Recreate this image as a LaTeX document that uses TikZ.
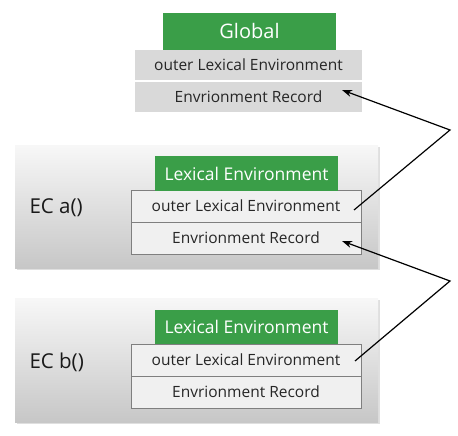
\documentclass[tikz,border=0pt]{standalone}
\usepackage{fontspec}
\setmainfont{Open Sans}
\usetikzlibrary{shadows,arrows.meta}
\definecolor{gr}{HTML}{3A9E48}
\definecolor{rowgray}{HTML}{D9D9D9}
\definecolor{rowlight}{HTML}{F0F0F0}
\definecolor{bordergray}{HTML}{7F7F7F}
\tikzset{
  greenbox/.style={fill=gr, text=white, minimum width=#1, minimum height=35pt, inner sep=0pt, font=\fontsize{17.5}{17.5}\selectfont},
  grayrow/.style={fill=rowgray, minimum width=227pt, minimum height=30pt, inner sep=0pt, font=\fontsize{15.5}{15.5}\selectfont, text=black!85},
  erow/.style={fill=rowlight, draw=bordergray, line width=0.6pt, minimum width=230pt, minimum height=32pt, inner sep=0pt, font=\fontsize{15.5}{15.5}\selectfont, text=black!85},
  panel/.style={top color=white!97!black, bottom color=black!22, minimum width=363pt, minimum height=123pt, inner sep=0pt,
    drop shadow={shadow xshift=1.5pt, shadow yshift=-2pt, opacity=0.25}},
  eclabel/.style={font=\fontsize{20.5}{20.5}\selectfont, text=black!90, anchor=west},
  link/.style={line width=1.2pt, -{Stealth[length=10pt,width=7pt]}},
}
\begin{document}
\begin{tikzpicture}[x=1pt,y=-1pt]
\useasboundingbox (0,0) rectangle (458,436);
% Global
\node[greenbox=173pt, minimum height=37pt, font=\fontsize{20}{20}\selectfont] (g) at (249.5,31.5) {Global};
\node[grayrow] (g1) at (248.5,65) {outer Lexical Environment};
\node[grayrow] (g2) at (248.5,97) {Envrionment Record};
% EC a
\node[panel] (pa) at (196.5,206.5) {};
\node[eclabel] (la) at (26,208) {EC a()};
\node[erow] (a1) at (246,206) {outer Lexical Environment};
\node[erow] (a2) at (246,238) {Envrionment Record};
\node[greenbox=183pt] (ga) at (246.5,173.5) {Lexical Environment};
% EC b
\node[panel, minimum height=124pt] (pb) at (196.5,360) {};
\node[eclabel] (lb) at (26,362) {EC b()};
\node[erow] (b1) at (246,360) {outer Lexical Environment};
\node[erow] (b2) at (246,392) {Envrionment Record};
\node[greenbox=183pt, minimum height=34pt] (gb) at (246.5,327) {Lexical Environment};
% arrows
\coordinate (s1) at (354,210);
\coordinate (c1) at (450,130);
\coordinate (t1) at (342,90);
\coordinate (s2) at (355,361);
\coordinate (c2) at (450,281);
\coordinate (t2) at (342,241);
\draw[link] (s1) -- (c1) -- (t1);
\draw[link] (s2) -- (c2) -- (t2);
\end{tikzpicture}
\end{document}
